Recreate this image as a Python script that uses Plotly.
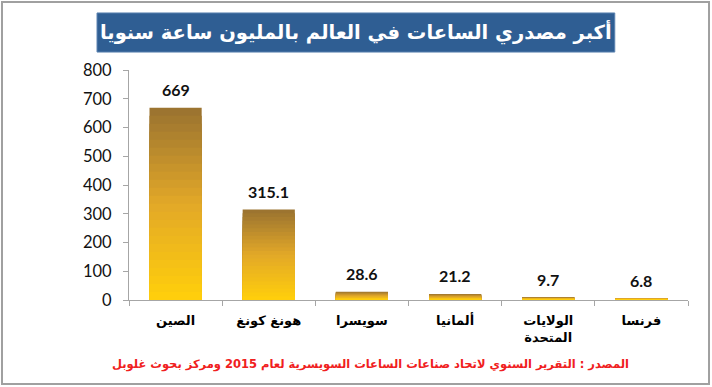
import plotly.graph_objects as go

categories = ["الصين", "هونغ كونغ", "سويسرا", "ألمانيا", "الولايات<br>المتحدة", "فرنسا"]
values = [669, 315.1, 28.6, 21.2, 9.7, 6.8]
value_labels = ["669", "315.1", "28.6", "21.2", "9.7", "6.8"]
y_ticks = [0, 100, 200, 300, 400, 500, 600, 700, 800]

title_text = "أكبر مصدري الساعات في العالم بالمليون ساعة سنويا"
source_text = "المصدر : التقرير السنوي لاتحاد صناعات الساعات السويسرية لعام <b>2015</b> ومركز بحوث غلوبل"

# gradient shades (top -> bottom) used to paint each bar as nested layers
top_rgb = (156, 116, 48)
mid_rgb = (226, 168, 40)
bot_rgb = (255, 206, 12)
steps = 24


def shade(t):
    if t < 0.5:
        a, b, u = top_rgb, mid_rgb, t / 0.5
    else:
        a, b, u = mid_rgb, bot_rgb, (t - 0.5) / 0.5
    return "rgb(%d,%d,%d)" % tuple(round(a[i] + (b[i] - a[i]) * u) for i in range(3))


fig = go.Figure()
for k in range(steps):
    frac = 1 - k / steps
    fig.add_trace(go.Bar(
        x=categories,
        y=[v * frac for v in values],
        marker=dict(color=shade(k / (steps - 1)), line=dict(width=0)),
        hoverinfo="skip",
        showlegend=False,
    ))

for c, v, t in zip(categories, values, value_labels):
    fig.add_annotation(x=c, y=v, text="<b>%s</b>" % t, showarrow=False,
                       yanchor="middle", yshift=18,
                       font=dict(family="Lato, Open Sans, sans-serif", size=16, color="#111"))

axis_gray = "#A6A6A6"

# outer frame
fig.add_shape(type="rect", xref="paper", yref="paper",
              x0=-0.2272, x1=1.0376, y0=-0.3652, y1=1.2957,
              line=dict(color="#A0A0A0", width=2), fillcolor="rgba(0,0,0,0)", layer="below")
# title box
fig.add_shape(type="rect", xref="paper", yref="paper",
              x0=-0.0572, x1=0.869, y0=1.078, y1=1.248,
              line=dict(color="#5A82B0", width=1), fillcolor="#2F5E93", layer="below")
fig.add_annotation(xref="paper", yref="paper", x=(0.869 - 0.0572) / 2, y=1.163,
                   text="<b>%s</b>" % title_text, showarrow=False,
                   xanchor="center", yanchor="middle",
                   font=dict(family="DejaVu Sans", size=19.5, color="white"))
fig.add_annotation(xref="paper", yref="paper", x=(370 - 129) / 559, y=(300 - 364) / 230,
                   text="<b>%s</b>" % source_text, showarrow=False,
                   xanchor="center", yanchor="middle",
                   font=dict(family="DejaVu Sans", size=11.5, color="#F02020"))

fig.update_layout(
    width=712, height=387,
    margin=dict(l=129, r=24, t=70, b=87),
    paper_bgcolor="white", plot_bgcolor="white",
    barmode="overlay", bargap=0.44,
    xaxis=dict(showline=True, linecolor=axis_gray, linewidth=1,
               ticks="outside", tickcolor=axis_gray, ticklen=5, tickson="boundaries",
               showgrid=False, zeroline=False, ticklabelstandoff=8,
               tickfont=dict(family="DejaVu Sans", size=13, color="#000", weight="bold"),
               fixedrange=True),
    yaxis=dict(range=[0, 800], tickvals=y_ticks, showline=True, linecolor=axis_gray, linewidth=1,
               ticks="outside", tickcolor=axis_gray, ticklen=5, ticklabelstandoff=8,
               showgrid=False, zeroline=False,
               tickfont=dict(family="Lato, Open Sans, sans-serif", size=16.5, color="#111"),
               fixedrange=True),
)

fig.write_html("out.html", config={"displayModeBar": False},
               post_script="document.body.style.margin='0';document.body.style.padding='0';")
